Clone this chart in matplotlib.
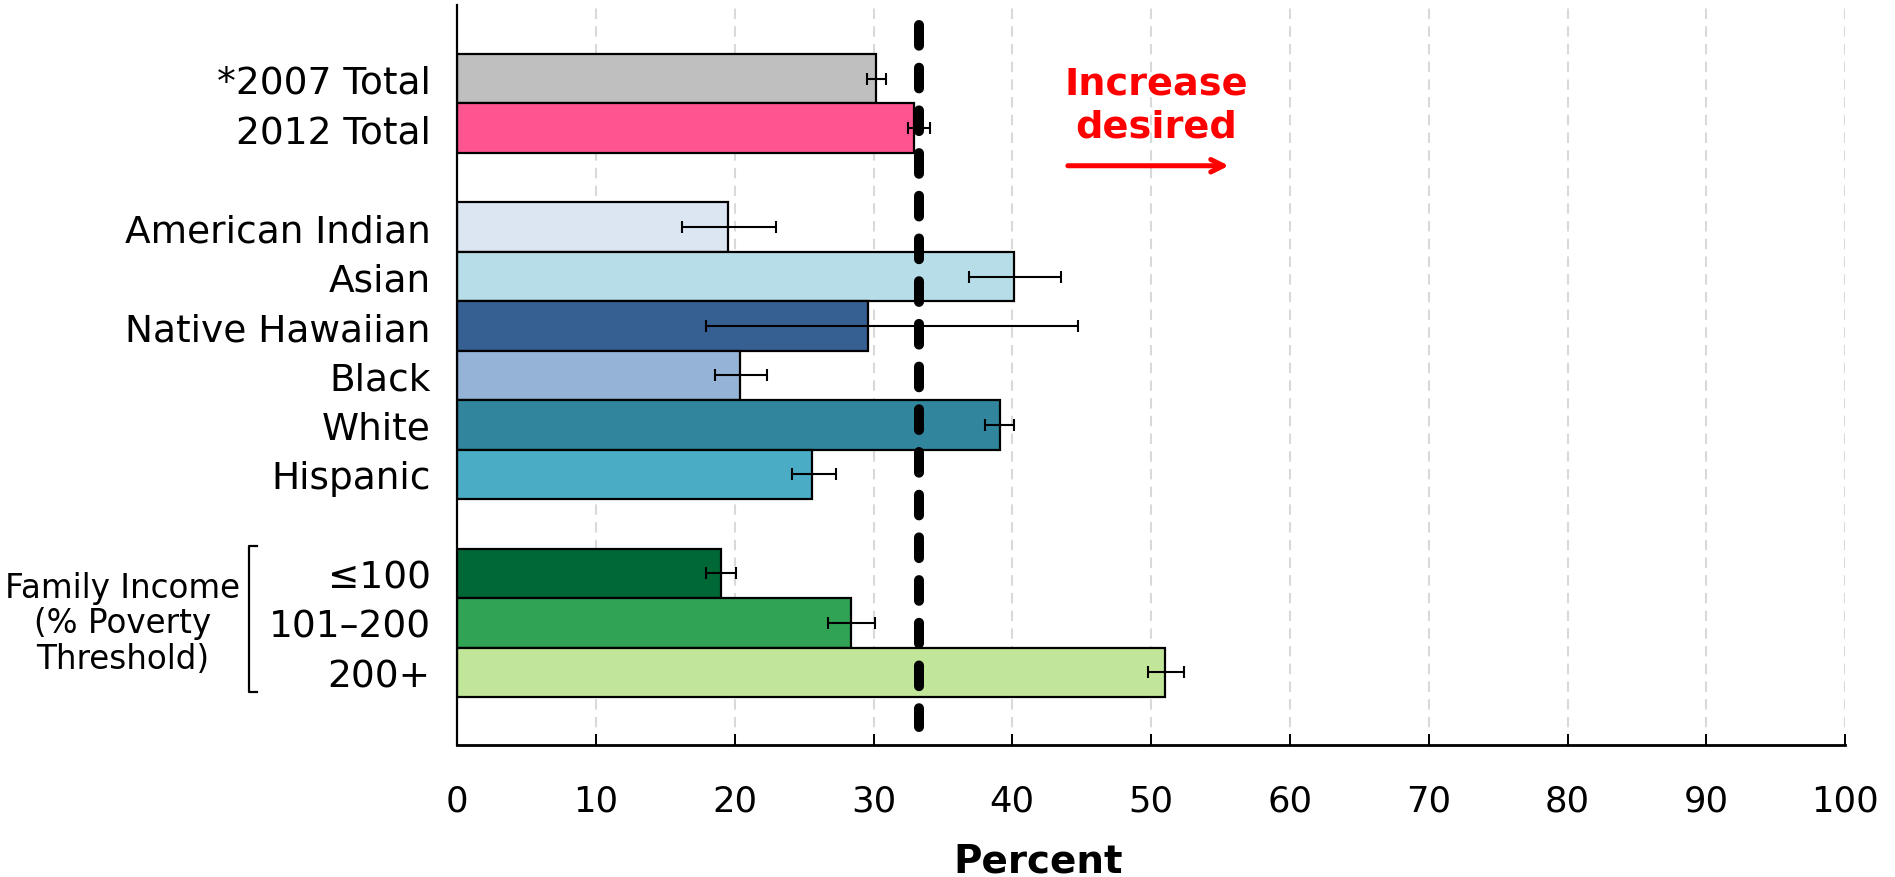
import numpy as np
import matplotlib
matplotlib.use("Agg")
import matplotlib.pyplot as plt

# Categories, slot positions (gaps between groups) and bar colours
labels = ["*2007 Total", "2012 Total",
          "American Indian", "Asian", "Native Hawaiian", "Black", "White", "Hispanic",
          "\u2264100", "101\u2013200", "200+"]
slots = [0, 1, 3, 4, 5, 6, 7, 8, 10, 11, 12]
values = [30.2, 32.9, 19.5, 40.1, 29.6, 20.4, 39.1, 25.6, 19.0, 28.4, 51.0]
ci_low = [29.5, 32.5, 16.2, 36.9, 17.9, 18.6, 38.0, 24.1, 17.9, 26.7, 49.8]
ci_high = [30.9, 34.1, 23.0, 43.5, 44.7, 22.3, 40.1, 27.3, 20.1, 30.1, 52.4]
colors = ["#BFBFBF", "#FF5490", "#DCE6F2", "#B7DEE8", "#366092", "#95B3D7",
          "#31859C", "#4BACC6", "#006837", "#31A354", "#C2E699"]
target = 33.3
x_ticks = [0, 10, 20, 30, 40, 50, 60, 70, 80, 90, 100]

plt.rcParams['font.family'] = ['DejaVu Sans']

fig = plt.figure(figsize=(18.95, 8.78), dpi=100)
ax = fig.add_axes([0.2412, 0.1503, 0.7325, 0.8429])

vals = np.array(values)
xerr = np.array([vals - np.array(ci_low), np.array(ci_high) - vals])

# vertical dashed grid
for x in x_ticks[1:]:
    ax.axvline(x, color="#D9D9D9", lw=1.5, dashes=(5, 3.5), zorder=0)

ax.barh(slots, values, height=1.0, color=colors, edgecolor="black", linewidth=1.6, zorder=2)
ax.errorbar(values, slots, xerr=xerr, fmt="none", ecolor="black", elinewidth=1.5,
            capsize=4.3, capthick=1.5, zorder=3)

# target line
tline, = ax.plot([target, target], [-1.08, 13.1], color="black", lw=7.2,
                 solid_capstyle="round", dash_capstyle="round", zorder=4)
tline.set_dashes((2.07, 2.2))

ax.set_xlim(0, 100)
ax.set_ylim(13.47, -1.49)
ax.set_xticks(x_ticks)
ax.set_xticklabels([str(t) for t in x_ticks], fontsize=25.5)
ax.tick_params(axis="x", direction="in", length=8, width=1.4, pad=28)
ax.set_yticks(slots)
ax.set_yticklabels(labels, fontsize=27)
ax.tick_params(axis="y", length=0, pad=19)

for side in ["top", "right"]:
    ax.spines[side].set_visible(False)
ax.spines["left"].set_linewidth(1.6)
ax.spines["bottom"].set_linewidth(2.0)

# direction note
ax.text(50.4, 0.54, "Increase\ndesired", color="#FF0000", fontsize=27.5, fontweight="bold",
        ha="center", va="center", linespacing=1.25, zorder=5)
ax.annotate("", xy=(55.6, 1.76), xytext=(44.0, 1.76),
            arrowprops=dict(arrowstyle="->, head_length=0.9, head_width=0.45",
                            color="#FF0000", lw=3.6, shrinkA=0, shrinkB=0))

# bracket for the income group
tr = ax.get_yaxis_transform()
ax.plot([-0.144, -0.150, -0.150, -0.144], [9.44, 9.44, 12.4, 12.4], color="black",
        lw=1.6, transform=tr, clip_on=False)
ax.text(-0.241, 11.0, "Family Income\n(% Poverty\nThreshold)", fontsize=23.5,
        ha="center", va="center", linespacing=1.1, transform=tr)

fig.text(0.548, 0.006, "Percent", fontsize=28, fontweight="bold", ha="center", va="baseline")

fig.savefig("out.png", dpi=100)
